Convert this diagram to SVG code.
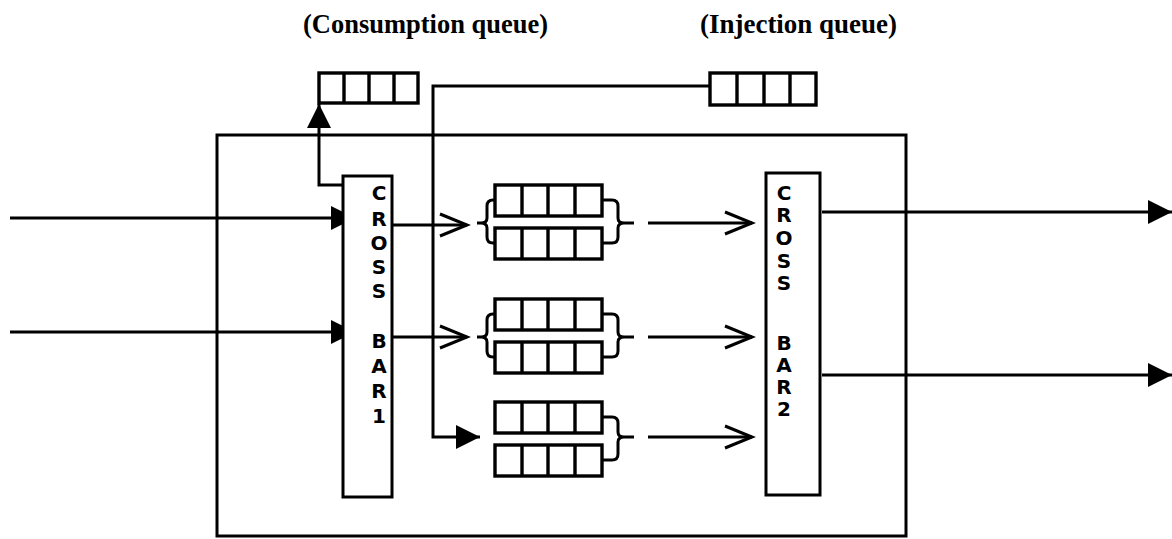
<svg xmlns="http://www.w3.org/2000/svg" width="1172" height="539" viewBox="0 0 1172 539">
<style>
.ln{fill:none;stroke:#000;stroke-width:3;stroke-linejoin:miter}
.bx{fill:#fff;stroke:#000;stroke-width:3}
.q{fill:#fff;stroke:#000;stroke-width:3.4}
.lbl{font-family:"Liberation Serif",serif;font-weight:bold;font-size:27px;fill:#000}
.cb{font-family:"DejaVu Sans","Liberation Sans",sans-serif;font-weight:bold;font-size:20px;fill:#000;text-anchor:middle}
</style>
<defs>
<marker id="fa" markerUnits="userSpaceOnUse" markerWidth="26" markerHeight="26" refX="24" refY="12" orient="auto" overflow="visible">
<path d="M0,0 L24,12 L0,24 Z" fill="#000"/>
</marker>
<marker id="oa" markerUnits="userSpaceOnUse" markerWidth="30" markerHeight="30" refX="28" refY="12" orient="auto" overflow="visible">
<path d="M1,1 L28,12 L1,23" fill="none" stroke="#000" stroke-width="3"/>
</marker>
<g id="queue">
<rect class="q" x="0" y="0" width="107" height="31"/>
<path class="q" d="M27,0 V31 M53,0 V31 M80,0 V31"/>
</g>
</defs>

<g id="labels">
<text class="lbl" x="303" y="33" textLength="245" lengthAdjust="spacingAndGlyphs">(Consumption queue)</text>
<text class="lbl" x="700" y="33" textLength="197" lengthAdjust="spacingAndGlyphs">(Injection queue)</text>
</g>

<g id="router">
<rect x="217" y="135" width="689" height="401" style="fill:none;stroke:#000;stroke-width:3"/>
</g>

<g id="consumption-queue">
<rect class="q" x="319" y="73" width="99" height="30"/>
<path class="q" d="M344,73 V103 M369,73 V103 M394,73 V103"/>
</g>

<g id="injection-queue">
<rect class="q" x="710" y="73" width="106" height="32"/>
<path class="q" d="M737,73 V105 M764,73 V105 M790,73 V105"/>
</g>

<g id="connectors">
<path class="ln" d="M343,185 H319 V104" marker-end="url(#fa)"/>
<path class="ln" d="M710,86 H433 V437 H480" marker-end="url(#fa)"/>
<path class="ln" d="M10,218 H355" marker-end="url(#fa)"/>
<path class="ln" d="M10,332 H355" marker-end="url(#fa)"/>
<path class="ln" d="M392,225 H467" marker-end="url(#oa)"/>
<path class="ln" d="M392,337 H467" marker-end="url(#oa)"/>
<path class="ln" d="M648,223 H752" marker-end="url(#oa)"/>
<path class="ln" d="M648,337 H752" marker-end="url(#oa)"/>
<path class="ln" d="M648,437 H752" marker-end="url(#oa)"/>
<path class="ln" d="M822,212 H1172" marker-end="url(#fa)"/>
<path class="ln" d="M822,375 H1172" marker-end="url(#fa)"/>
</g>

<g id="crossbar1">
<rect class="bx" x="343" y="176" width="49" height="321"/>
<text class="cb" x="379" y="200">C</text>
<text class="cb" x="379" y="226">R</text>
<text class="cb" x="379" y="250">O</text>
<text class="cb" x="379" y="274">S</text>
<text class="cb" x="379" y="298">S</text>
<text class="cb" x="379" y="348">B</text>
<text class="cb" x="379" y="373">A</text>
<text class="cb" x="379" y="398">R</text>
<text class="cb" x="379" y="423">1</text>
</g>

<g id="crossbar2">
<rect class="bx" x="766" y="173" width="54" height="322"/>
<text class="cb" x="784" y="200">C</text>
<text class="cb" x="784" y="222">R</text>
<text class="cb" x="784" y="245">O</text>
<text class="cb" x="784" y="268">S</text>
<text class="cb" x="784" y="290">S</text>
<text class="cb" x="784" y="350">B</text>
<text class="cb" x="784" y="372">A</text>
<text class="cb" x="784" y="394">R</text>
<text class="cb" x="784" y="416">2</text>
</g>

<g id="queue-pair-1">
<use href="#queue" x="495" y="185"/>
<use href="#queue" x="495" y="228"/>
<path class="ln" d="M495,200 H493 Q487,200 487,206 V218 Q487,223 481,223 H477 M481,223 Q487,223 487,228 V237 Q487,243 493,243 H495"/>
<path class="ln" d="M602,200 H612 Q618,200 618,206 V218 Q618,223 624,223 H634 M624,223 Q618,223 618,228 V237 Q618,243 612,243 H602"/>
</g>

<g id="queue-pair-2">
<use href="#queue" x="495" y="299"/>
<use href="#queue" x="495" y="342"/>
<path class="ln" d="M495,314 H493 Q487,314 487,320 V332 Q487,337 481,337 H477 M481,337 Q487,337 487,342 V351 Q487,357 493,357 H495"/>
<path class="ln" d="M602,314 H612 Q618,314 618,320 V332 Q618,337 624,337 H634 M624,337 Q618,337 618,342 V351 Q618,357 612,357 H602"/>
</g>

<g id="queue-pair-3">
<use href="#queue" x="495" y="402"/>
<use href="#queue" x="495" y="445"/>
<path class="ln" d="M602,417 H612 Q618,417 618,423 V432 Q618,437 624,437 H634 M624,437 Q618,437 618,442 V454 Q618,460 612,460 H602"/>
</g>
</svg>
